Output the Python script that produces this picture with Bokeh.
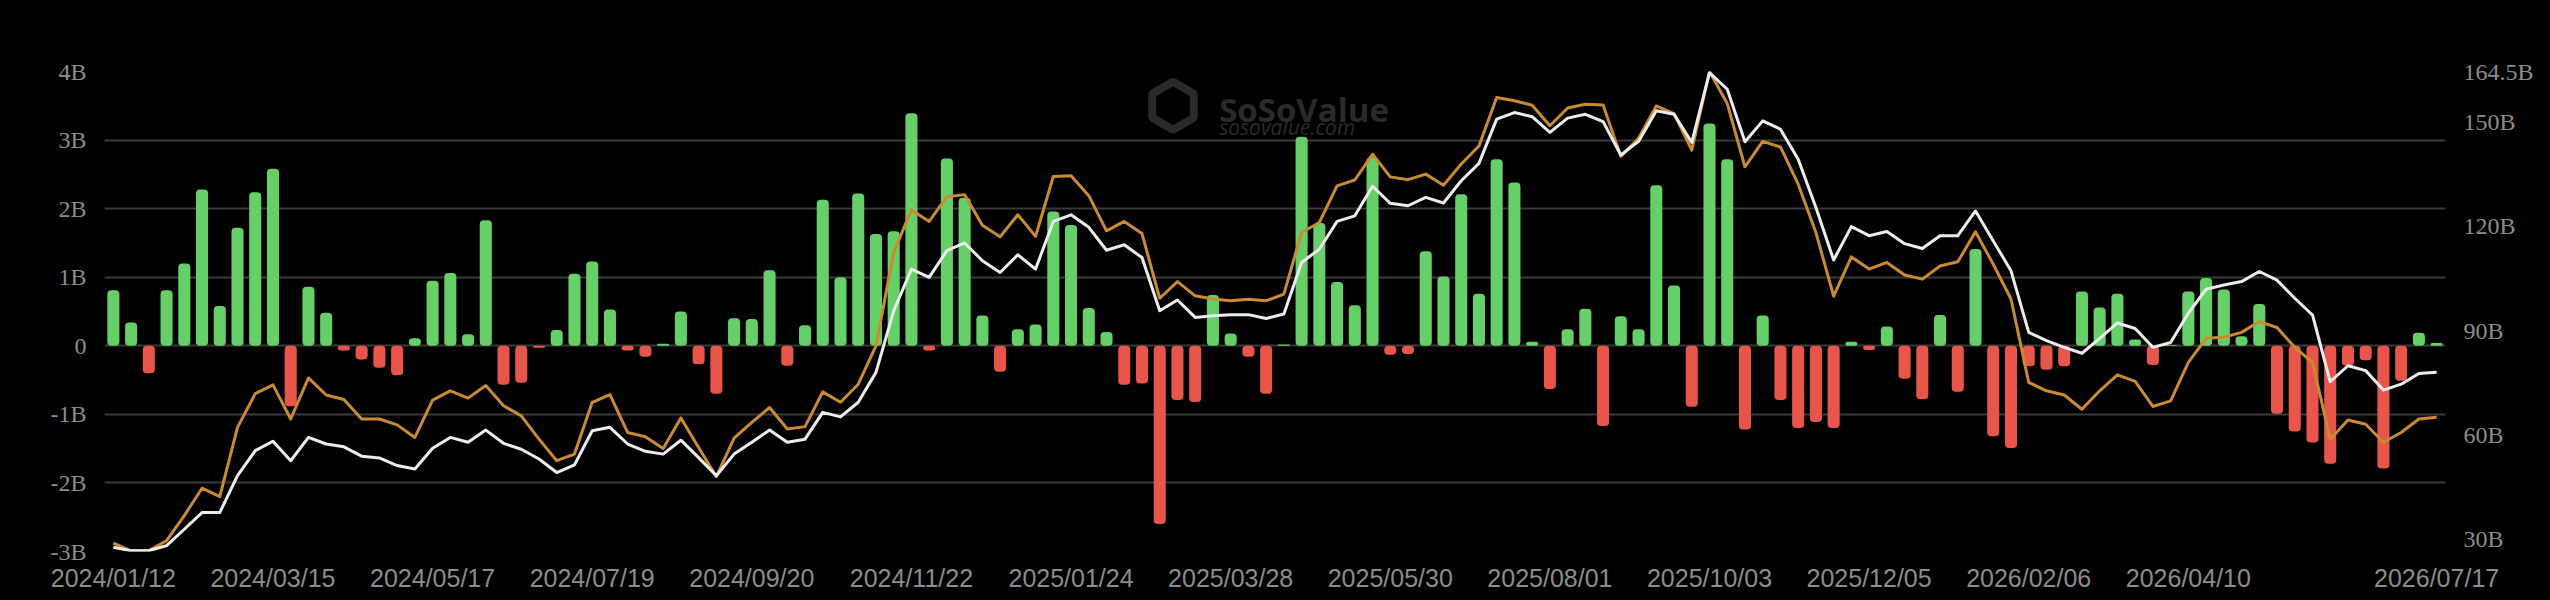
import math
import pandas as pd
from bokeh.plotting import figure
from bokeh.models import (ColumnDataSource, Range1d, LinearAxis, FixedTicker, Label)
from bokeh.embed import file_html
from bokeh.resources import INLINE

# ---------------- data ----------------
start_date = "2024-01-12"
n_weeks = 132
dates = pd.date_range(start_date, periods=n_weeks, freq="7D")
x_tick_idx = [0, 9, 18, 27, 36, 45, 54, 63, 72, 81, 90, 99, 108, 117, 131]

# weekly net inflow (billion USD)
net_inflow = [
    0.81, 0.34, -0.40, 0.81, 1.20, 2.28, 0.58, 1.72, 2.24, 2.58,
    -0.88, 0.86, 0.48, -0.07, -0.20, -0.32, -0.43, 0.11, 0.95, 1.06,
    0.17, 1.83, -0.57, -0.54, -0.03, 0.23, 1.05, 1.23, 0.53, -0.07,
    -0.16, 0.03, 0.50, -0.27, -0.70, 0.40, 0.39, 1.10, -0.29, 0.30,
    2.13, 1.00, 2.22, 1.63, 1.67, 3.39, -0.07, 2.73, 2.16, 0.44,
    -0.38, 0.24, 0.31, 1.96, 1.76, 0.55, 0.20, -0.57, -0.55, -2.60,
    -0.79, -0.82, 0.74, 0.18, -0.16, -0.70, 0.02, 3.05, 1.79, 0.93,
    0.59, 2.75, -0.13, -0.12, 1.38, 1.01, 2.21, 0.76, 2.72, 2.38,
    0.06, -0.63, 0.24, 0.54, -1.17, 0.43, 0.24, 2.34, 0.88, -0.89,
    3.24, 2.72, -1.22, 0.44, -0.79, -1.20, -1.11, -1.20, 0.06, -0.06,
    0.28, -0.48, -0.78, 0.45, -0.67, 1.41, -1.32, -1.49, -0.30, -0.35,
    -0.30, 0.79, 0.56, 0.76, 0.09, -0.28, 0.01, 0.79, 0.99, 0.82,
    0.14, 0.61, -0.99, -1.25, -1.41, -1.72, -0.29, -0.21, -1.79, -0.51,
    0.19, 0.04,
]

# total net assets (billion USD) - white line
total_assets = [
    27.7, 26.7, 26.7, 28.2, 32.9, 37.7, 37.7, 48.3, 55.5, 58.2,
    52.6, 59.3, 57.4, 56.6, 53.9, 53.4, 51.2, 50.2, 56.2, 59.3,
    57.9, 61.4, 57.6, 55.9, 53.1, 49.2, 51.4, 61.2, 62.2, 57.4,
    55.3, 54.5, 58.5, 53.5, 48.3, 54.5, 57.9, 61.4, 57.9, 58.8,
    66.5, 65.2, 69.4, 78.0, 95.7, 107.7, 105.3, 113.0, 115.2, 110.1,
    106.7, 111.8, 107.7, 121.4, 123.3, 119.7, 113.1, 114.7, 111.0, 95.7,
    98.8, 93.8, 94.3, 94.6, 94.6, 93.5, 94.8, 109.6, 113.4, 121.4,
    123.0, 131.5, 126.6, 125.9, 128.3, 126.7, 133.1, 138.1, 150.8, 152.7,
    151.5, 147.0, 151.1, 152.2, 150.1, 140.5, 144.4, 153.2, 152.2, 144.1,
    164.2, 159.4, 144.3, 150.3, 147.9, 139.3, 125.4, 110.3, 119.9, 117.3,
    118.5, 115.0, 113.6, 117.3, 117.3, 124.4, 115.8, 107.2, 89.5, 87.1,
    85.2, 83.5, 87.8, 92.2, 90.6, 85.2, 86.6, 95.0, 101.9, 103.1,
    104.1, 107.0, 104.5, 99.3, 94.5, 75.3, 79.9, 78.5, 72.9, 74.6,
    77.7, 78.0,
]

# cumulative net inflow (billion USD) - orange line
cumulative_inflow = [
    28.9, 26.7, 26.8, 29.6, 36.8, 44.7, 42.3, 62.2, 71.9, 74.4,
    64.6, 76.4, 71.5, 70.2, 64.6, 64.6, 62.9, 59.3, 70.0, 72.7,
    70.6, 74.2, 68.4, 65.5, 58.8, 52.6, 54.5, 69.4, 71.6, 60.7,
    59.5, 56.1, 64.9, 56.4, 48.0, 59.1, 63.6, 67.9, 61.7, 62.4,
    72.4, 69.4, 74.6, 85.6, 112.5, 124.7, 121.4, 128.5, 129.1, 120.3,
    117.0, 123.3, 117.1, 134.3, 134.5, 128.8, 118.7, 121.4, 117.9, 99.3,
    104.1, 100.0, 99.1, 98.6, 99.0, 98.6, 100.5, 118.2, 121.1, 131.6,
    133.3, 140.7, 134.2, 133.4, 135.0, 131.8, 137.9, 143.1, 157.0, 156.1,
    154.8, 148.9, 154.0, 155.1, 154.9, 140.1, 145.3, 154.6, 152.4, 141.9,
    164.5, 155.3, 137.1, 144.4, 142.8, 132.1, 118.2, 99.9, 111.2, 107.7,
    109.6, 106.0, 104.8, 108.6, 109.8, 118.4, 109.1, 99.1, 75.1, 72.7,
    71.5, 67.4, 72.7, 77.3, 75.4, 68.2, 69.8, 80.9, 87.8, 88.1,
    89.5, 92.6, 90.9, 85.2, 80.9, 58.8, 64.3, 63.1, 57.9, 60.7,
    64.6, 65.1,
]

left_ticks = [-3, -2, -1, 0, 1, 2, 3, 4]
right_ticks = [30, 60, 90, 120, 150, 164.5]
right_min, right_max = 26.5, 164.5

# ---------------- styling ----------------
BG = "#000000"
GREEN = "#67cf67"
RED = "#e8554a"
ORANGE = "#c98b30"
WHITE = "#ececec"
GRID = "#3a3a3a"
TEXT = "#8c8c8c"
WM = "#2a2a2a"

idx = list(range(n_weeks))
colors = [GREEN if v >= 0 else RED for v in net_inflow]
src = ColumnDataSource(dict(x=idx, net=net_inflow, color=colors,
                            total=total_assets, cum=cumulative_inflow))

p = figure(width=2550, height=600,
           x_range=Range1d(-0.5, n_weeks - 0.5), y_range=Range1d(-3, 4),
           output_backend="svg", toolbar_location=None,
           background_fill_color=BG, border_fill_color=BG,
           outline_line_color=None,
           min_border_left=104, min_border_right=105,
           min_border_top=71, min_border_bottom=49)
p.extra_y_ranges = {"right": Range1d(right_min, right_max)}

# grid
p.xgrid.grid_line_color = None
p.ygrid.grid_line_color = GRID
p.ygrid.grid_line_width = 2
p.ygrid.ticker = FixedTicker(ticks=left_ticks)

def style_axis(ax, font, size, standoff):
    ax.axis_line_color = None
    ax.major_tick_line_color = None
    ax.minor_tick_line_color = None
    ax.major_tick_out = 0
    ax.major_tick_in = 0
    ax.minor_tick_out = 0
    ax.major_label_standoff = standoff
    ax.major_label_text_font = font
    ax.major_label_text_font_size = size
    ax.major_label_text_color = TEXT

# left axis
la = p.yaxis[0]
la.ticker = FixedTicker(ticks=left_ticks)
la.major_label_overrides = {t: ("0" if t == 0 else f"{t}B") for t in left_ticks}
style_axis(la, "Liberation Serif", "24px", 18)

# right axis
ra = LinearAxis(y_range_name="right", ticker=FixedTicker(ticks=right_ticks))
ra.major_label_overrides = {t: (f"{t:g}B") for t in right_ticks}
style_axis(ra, "Liberation Serif", "24px", 18)
p.add_layout(ra, "right")

# bottom axis
xa = p.xaxis[0]
xa.ticker = FixedTicker(ticks=x_tick_idx)
xa.major_label_overrides = {i: dates[i].strftime("%Y/%m/%d") for i in x_tick_idx}
style_axis(xa, "Liberation Sans", "25px", 12)

# watermark
p.scatter(x=[59.75], y=[3.5], marker="hex", size=48, angle=math.pi / 6,
          fill_color=None, line_color=WM, line_width=8)
p.add_layout(Label(x=62.35, y=3.45, text="SoSoValue", text_font="Open Sans",
                   text_font_size="33px", text_font_style="bold",
                   text_color=WM, text_baseline="alphabetic"))
p.add_layout(Label(x=62.35, y=3.19, text="sosovalue.com", text_font="Open Sans",
                   text_font_size="21px", text_font_style="italic",
                   text_color=WM, text_baseline="alphabetic"))

# bars
p.vbar(x="x", top="net", bottom=0, width=0.68, source=src,
       fill_color="color", line_color=None, border_radius=4)

# lines
p.line(x="x", y="cum", source=src, y_range_name="right",
       line_color=ORANGE, line_width=3, line_join="round")
p.line(x="x", y="total", source=src, y_range_name="right",
       line_color=WHITE, line_width=3, line_join="round")

html = file_html(p, INLINE)
html = html.replace("<body>", '<body style="background-color:#000000;">')
open("out.html", "w").write(html)
